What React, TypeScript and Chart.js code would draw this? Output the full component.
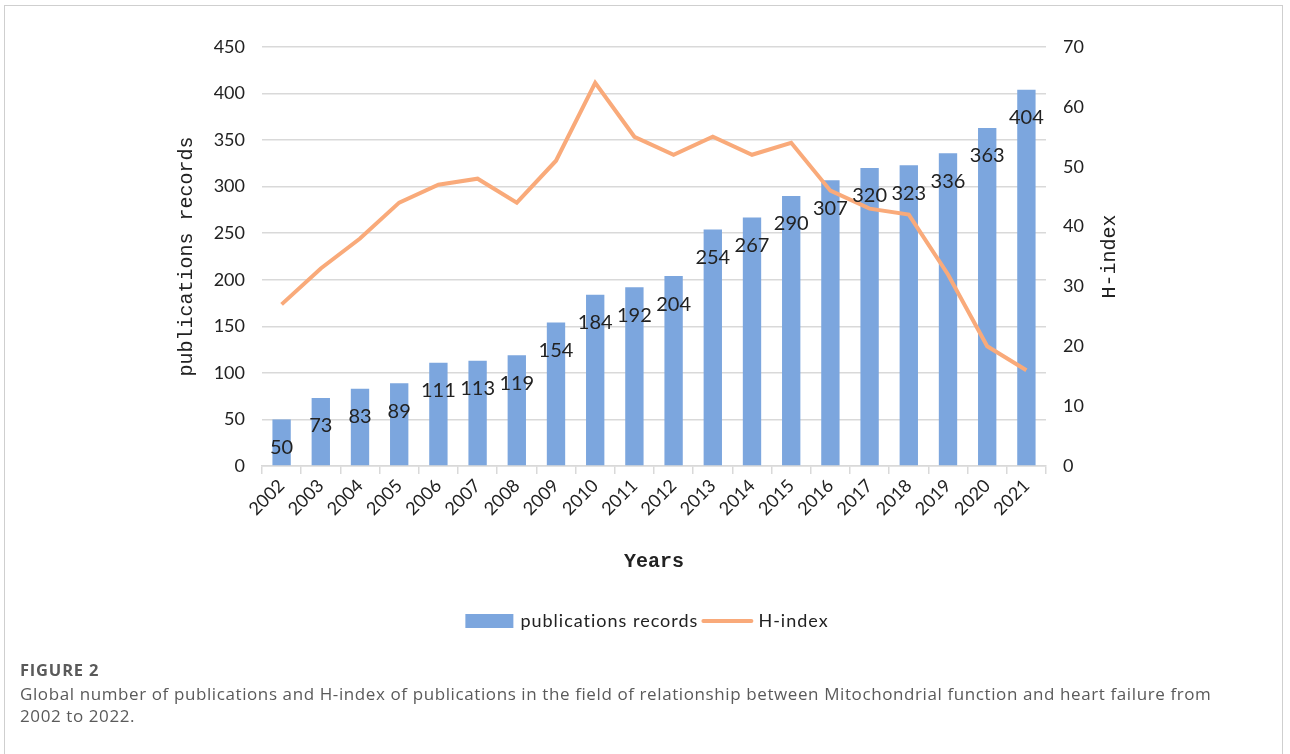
import React, { useEffect, useRef } from "react";
import { Chart, registerables } from "chart.js";

Chart.register(...registerables);

const years = ["2002","2003","2004","2005","2006","2007","2008","2009","2010","2011","2012","2013","2014","2015","2016","2017","2018","2019","2020","2021"];
const publications = [50,73,83,89,111,113,119,154,184,192,204,254,267,290,307,320,323,336,363,404];
const hIndex = [27,33,38,44,47,48,44,51,64,55,52,55,52,54,46,43,42,32,20,16];
const leftTicks = [0,50,100,150,200,250,300,350,400,450];
const rightTicks = [0,10,20,30,40,50,60,70];

const BAR_COLOR = "rgb(124,166,222)";
const LINE_COLOR = "rgb(249,170,122)";
const TEXT_COLOR = "#222";
const GRID_COLOR = "#d9d9d9";
const SANS = "Lato, 'Open Sans', sans-serif";
const MONO = "'Liberation Mono', 'DejaVu Sans Mono', monospace";

const barLabels = {
  id: "barLabels",
  afterDatasetsDraw(chart: any) {
    const ctx = chart.ctx;
    const meta = chart.getDatasetMeta(0);
    ctx.save();
    ctx.font = `20px ${SANS}`;
    ctx.fillStyle = TEXT_COLOR;
    ctx.textAlign = "center";
    ctx.textBaseline = "middle";
    meta.data.forEach((el: any, i: number) => {
      ctx.fillText(String(publications[i]), el.x, el.y + 28);
    });
    ctx.restore();
  },
};

const rightTitle = {
  id: "rightTitle",
  afterDraw(chart: any) {
    const ctx = chart.ctx;
    const area = chart.chartArea;
    ctx.save();
    ctx.font = `20px ${MONO}`;
    ctx.fillStyle = TEXT_COLOR;
    ctx.textAlign = "center";
    ctx.textBaseline = "middle";
    ctx.translate(1110, (area.top + area.bottom) / 2);
    ctx.rotate(-Math.PI / 2);
    ctx.fillText("H-index", 0, 0);
    ctx.restore();
  },
};

const customLegend = {
  id: "customLegend",
  afterDraw(chart: any) {
    const ctx = chart.ctx;
    ctx.save();
    ctx.font = `18px ${SANS}`;
    (ctx as any).letterSpacing = "1px";
    const t1 = chart.data.datasets[0].label;
    const t2 = chart.data.datasets[1].label;
    const w1 = ctx.measureText(t1).width;
    const w2 = ctx.measureText(t2).width;
    const box = 48, gap = 7, between = 5;
    const total = box + gap + w1 + between + box + gap + w2;
    const cx = 647, cy = 621;
    let x = cx - total / 2;
    ctx.fillStyle = BAR_COLOR;
    ctx.fillRect(x, cy - 7, box, 14);
    x += box + gap;
    ctx.fillStyle = TEXT_COLOR;
    ctx.textAlign = "left";
    ctx.textBaseline = "middle";
    ctx.fillText(t1, x, cy);
    x += w1 + between;
    ctx.strokeStyle = LINE_COLOR;
    ctx.lineWidth = 4;
    ctx.lineCap = "round";
    ctx.beginPath();
    ctx.moveTo(x, cy);
    ctx.lineTo(x + box, cy);
    ctx.stroke();
    x += box + gap;
    ctx.fillText(t2, x, cy);
    ctx.restore();
  },
};

export default function App() {
  const ref = useRef<HTMLCanvasElement>(null);
  useEffect(() => {
    if (!ref.current) return;
    const chart = new Chart(ref.current, {
      type: "bar",
      data: {
        labels: years,
        datasets: [
          {
            type: "bar",
            label: "publications records",
            data: publications,
            backgroundColor: BAR_COLOR,
            yAxisID: "y",
            barPercentage: 0.6,
            categoryPercentage: 0.78,
            order: 2,
          },
          {
            type: "line",
            label: "H-index",
            data: hIndex,
            borderColor: LINE_COLOR,
            backgroundColor: LINE_COLOR,
            borderWidth: 4,
            pointRadius: 0,
            tension: 0,
            yAxisID: "y1",
            order: 1,
          } as any,
        ],
      },
      plugins: [barLabels, rightTitle, customLegend],
      options: {
        responsive: false,
        animation: false,
        layout: { padding: { left: 172, right: 168, top: 47, bottom: 57 } },
        plugins: {
          legend: { display: false },
          tooltip: { enabled: false },
        },
        scales: {
          x: {
            grid: {
              display: true,
              drawOnChartArea: false,
              drawTicks: true,
              tickLength: 8,
              offset: true,
              color: GRID_COLOR,
              lineWidth: 1.5,
            },
            border: { display: true, color: GRID_COLOR, width: 1.5 },
            ticks: {
              color: TEXT_COLOR,
              font: { family: SANS, size: 18 },
              maxRotation: 45,
              minRotation: 45,
              padding: 1,
              autoSkip: false,
            },
            title: {
              display: true,
              text: "Years",
              color: TEXT_COLOR,
              font: { family: MONO, size: 20, weight: "bold" },
              padding: { top: 0, bottom: 29 },
            },
            afterFit(scale: any) {
              scale.height = 137;
            },
          },
          y: {
            position: "left",
            min: 0,
            max: 450,
            afterBuildTicks(scale: any) {
              scale.ticks = leftTicks.map((v) => ({ value: v }));
            },
            grid: { color: GRID_COLOR, lineWidth: 1.5, drawTicks: false },
            border: { display: false },
            ticks: {
              color: TEXT_COLOR,
              font: { family: SANS, size: 18 },
              padding: 17,
            },
            title: {
              display: true,
              text: "publications records",
              color: TEXT_COLOR,
              font: { family: MONO, size: 20 },
              padding: { top: 3, bottom: 0 },
            },
            afterFit(scale: any) {
              scale.width = 90;
            },
          },
          y1: {
            position: "right",
            min: 0,
            max: 70,
            afterBuildTicks(scale: any) {
              scale.ticks = rightTicks.map((v) => ({ value: v }));
            },
            grid: { drawOnChartArea: false, drawTicks: false },
            border: { display: false },
            ticks: {
              color: TEXT_COLOR,
              font: { family: SANS, size: 18 },
              padding: 17,
            },
            title: { display: false },
            afterFit(scale: any) {
              scale.width = 76;
            },
          },
        },
      } as any,
    });
    return () => chart.destroy();
  }, []);

  return (
    <div style={{ position: "fixed", left: 0, top: 0, width: 1290, height: 754, background: "#fff", overflow: "hidden" }}>
      <div style={{ position: "absolute", left: 4, top: 5, width: 1279, height: 780, border: "1px solid #cfcfcf", boxSizing: "border-box" }} />
      <canvas ref={ref} width={1290} height={660} style={{ position: "absolute", left: 0, top: 0, width: 1290, height: 660 }} />
      <div style={{ position: "absolute", left: 20, top: 659, fontFamily: "'Open Sans', sans-serif", color: "#5a5a5a", fontSize: 17, lineHeight: "22px", whiteSpace: "nowrap", letterSpacing: "0.6px" }}>
        <div style={{ fontWeight: 700, fontSize: 16.5, letterSpacing: "0.8px" }}>FIGURE 2</div>
        <div style={{ marginTop: 2 }}>
          Global number of publications and H-index of publications in the field of relationship between Mitochondrial function and heart failure from
        </div>
        <div>2002 to 2022.</div>
      </div>
    </div>
  );
}
